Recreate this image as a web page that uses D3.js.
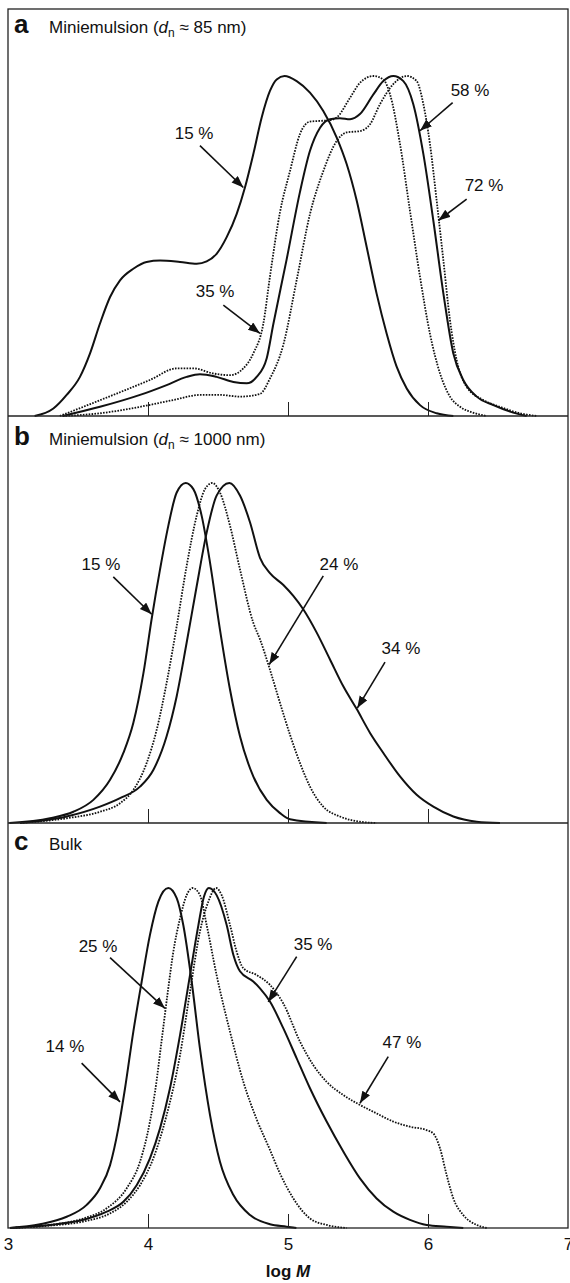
<!DOCTYPE html>
<html>
<head>
<meta charset="utf-8">
<script src="https://cdn.jsdelivr.net/npm/d3@7"></script>
<style>
  body { margin: 0; background: #fff; }
  svg { display: block; }
  text { font-family: Arial, "Liberation Sans", Helvetica, sans-serif; fill: #111; }
</style>
</head>
<body>
<svg id="chart" width="570" height="1283"></svg>
<script>
// x ticks (log M)
const xTicks = [3, 4, 5, 6, 7];
const innerTicks = [4, 5, 6];

// panel a : miniemulsion dn ~ 85 nm   [log M, normalised w(log M)]
const a15 = [[3.19,0],[3.324,0.022],[3.419,0.062],[3.514,0.115],[3.586,0.184],[3.657,0.272],[3.729,0.35],[3.8,0.399],[3.895,0.433],[3.99,0.453],[4.086,0.457],[4.229,0.453],[4.348,0.448],[4.419,0.455],[4.49,0.477],[4.562,0.526],[4.633,0.594],[4.693,0.673],[4.752,0.77],[4.812,0.878],[4.871,0.956],[4.919,0.99],[4.975,1.0],[5.062,0.985],[5.157,0.951],[5.252,0.897],[5.348,0.819],[5.419,0.741],[5.491,0.633],[5.562,0.497],[5.633,0.36],[5.705,0.242],[5.776,0.145],[5.848,0.081],[5.943,0.032],[6.062,0.008],[6.181,0]];
const a35 = [[3.37,0],[3.538,0.027],[3.776,0.066],[4.014,0.106],[4.205,0.14],[4.324,0.14],[4.467,0.125],[4.586,0.12],[4.681,0.14],[4.752,0.184],[4.824,0.272],[4.871,0.41],[4.943,0.6],[5.014,0.72],[5.086,0.83],[5.157,0.866],[5.229,0.868],[5.3,0.87],[5.348,0.878],[5.443,0.936],[5.514,0.98],[5.61,1.0],[5.68,0.99],[5.729,0.946],[5.8,0.8],[5.871,0.604],[5.943,0.409],[6.014,0.242],[6.086,0.125],[6.157,0.057],[6.229,0.027],[6.32,0.01],[6.42,0]];
const a58 = [[3.39,0],[3.657,0.027],[3.943,0.062],[4.133,0.091],[4.276,0.115],[4.371,0.123],[4.49,0.115],[4.61,0.1],[4.705,0.096],[4.776,0.115],[4.848,0.17],[4.895,0.27],[4.99,0.46],[5.086,0.66],[5.157,0.78],[5.229,0.848],[5.3,0.873],[5.371,0.876],[5.443,0.873],[5.514,0.888],[5.61,0.946],[5.681,0.985],[5.752,1.0],[5.824,0.985],[5.895,0.917],[5.967,0.77],[6.038,0.575],[6.11,0.36],[6.181,0.184],[6.252,0.106],[6.348,0.057],[6.467,0.032],[6.586,0.013],[6.705,0]];
const a72 = [[3.39,0],[3.657,0.008],[3.943,0.027],[4.181,0.047],[4.371,0.062],[4.514,0.062],[4.657,0.057],[4.8,0.065],[4.871,0.11],[4.967,0.21],[5.062,0.4],[5.157,0.594],[5.252,0.72],[5.348,0.809],[5.419,0.834],[5.514,0.838],[5.586,0.858],[5.657,0.917],[5.752,0.976],[5.848,1.0],[5.919,0.985],[5.967,0.917],[6.014,0.8],[6.062,0.633],[6.11,0.457],[6.157,0.282],[6.205,0.164],[6.276,0.086],[6.395,0.047],[6.514,0.027],[6.657,0.008],[6.776,0]];

// panel b : miniemulsion dn ~ 1000 nm
const b15 = [[3.01,0],[3.3,0.014],[3.467,0.033],[3.61,0.068],[3.729,0.127],[3.824,0.206],[3.895,0.294],[3.967,0.44],[4.026,0.6],[4.086,0.746],[4.145,0.874],[4.205,0.972],[4.269,1.0],[4.324,0.982],[4.383,0.904],[4.443,0.766],[4.514,0.569],[4.586,0.392],[4.657,0.255],[4.752,0.137],[4.848,0.068],[4.943,0.029],[5.014,0.011],[5.276,0]];
const b24 = [[3.086,0],[3.419,0.014],[3.657,0.033],[3.8,0.058],[3.895,0.097],[3.99,0.176],[4.062,0.274],[4.133,0.412],[4.205,0.579],[4.276,0.756],[4.348,0.904],[4.407,0.982],[4.459,1.0],[4.514,0.972],[4.586,0.874],[4.657,0.746],[4.752,0.589],[4.8,0.54],[4.871,0.451],[4.943,0.353],[5.014,0.26],[5.086,0.176],[5.157,0.107],[5.252,0.048],[5.371,0.019],[5.514,0.004],[5.633,0]];
const b34 = [[3.086,0],[3.419,0.019],[3.657,0.048],[3.8,0.073],[3.943,0.107],[4.038,0.156],[4.133,0.255],[4.205,0.373],[4.276,0.53],[4.348,0.697],[4.419,0.854],[4.49,0.963],[4.581,1.0],[4.657,0.963],[4.729,0.884],[4.8,0.78],[4.871,0.735],[4.967,0.7],[5.038,0.668],[5.11,0.628],[5.205,0.56],[5.3,0.481],[5.395,0.402],[5.491,0.335],[5.586,0.265],[5.681,0.206],[5.8,0.137],[5.919,0.083],[6.038,0.048],[6.181,0.019],[6.348,0.004],[6.514,0]];

// panel c : bulk
const c14 = [[3.014,0],[3.229,0.011],[3.419,0.033],[3.562,0.068],[3.657,0.117],[3.729,0.185],[3.788,0.293],[3.836,0.411],[3.895,0.577],[3.955,0.725],[4.014,0.862],[4.074,0.96],[4.145,1.0],[4.205,0.97],[4.252,0.891],[4.312,0.725],[4.371,0.528],[4.443,0.332],[4.514,0.195],[4.61,0.097],[4.729,0.038],[4.871,0.011],[4.99,0.004],[5.06,0]];
const c25 = [[3.014,0],[3.3,0.009],[3.538,0.028],[3.705,0.058],[3.848,0.117],[3.943,0.195],[4.014,0.313],[4.05,0.4],[4.1,0.56],[4.14,0.69],[4.18,0.81],[4.229,0.911],[4.276,0.979],[4.319,1.0],[4.371,0.979],[4.419,0.891],[4.49,0.744],[4.586,0.577],[4.681,0.43],[4.776,0.32],[4.871,0.23],[4.943,0.16],[5.038,0.087],[5.157,0.028],[5.276,0.009],[5.419,0]];
const c35 = [[3.014,0],[3.3,0.009],[3.538,0.024],[3.705,0.048],[3.824,0.077],[3.919,0.126],[4.014,0.205],[4.086,0.293],[4.157,0.411],[4.229,0.568],[4.3,0.744],[4.36,0.891],[4.4,0.975],[4.435,1.0],[4.49,0.979],[4.562,0.891],[4.61,0.803],[4.657,0.755],[4.752,0.725],[4.8,0.705],[4.871,0.666],[4.967,0.587],[5.062,0.499],[5.157,0.411],[5.276,0.313],[5.395,0.225],[5.514,0.146],[5.633,0.087],[5.752,0.048],[5.871,0.024],[5.99,0.009],[6.133,0.004],[6.252,0]];
const c47 = [[3.014,0],[3.3,0.007],[3.538,0.019],[3.729,0.043],[3.848,0.077],[3.943,0.126],[4.038,0.205],[4.133,0.332],[4.229,0.509],[4.3,0.695],[4.371,0.872],[4.431,0.96],[4.486,1.0],[4.526,0.979],[4.586,0.891],[4.633,0.813],[4.681,0.764],[4.776,0.744],[4.871,0.715],[4.967,0.66],[5.086,0.548],[5.181,0.479],[5.276,0.43],[5.395,0.391],[5.514,0.362],[5.633,0.337],[5.752,0.313],[5.871,0.298],[5.99,0.288],[6.038,0.278],[6.086,0.234],[6.133,0.156],[6.181,0.087],[6.252,0.038],[6.348,0.009],[6.419,0]];

// annotations: label, text anchor point, arrow start, arrow tip (data units)
const notesA = [
  ['15 %', [4.329, 0.815], [4.371, 0.795], [4.681, 0.672]],
  ['35 %', [4.479, 0.349], [4.538, 0.326], [4.8, 0.243]],
  ['58 %', [6.3, 0.941], [6.176, 0.922], [5.943, 0.839]],
  ['72 %', [6.4, 0.663], [6.276, 0.638], [6.074, 0.575]]
];
const notesB = [
  ['15 %', [3.664, 0.743], [3.752, 0.724], [4.026, 0.614]],
  ['24 %', [5.364, 0.743], [5.252, 0.727], [4.866, 0.466]],
  ['34 %', [5.807, 0.496], [5.693, 0.473], [5.495, 0.338]]
];
const notesC = [
  ['25 %', [3.643, 0.812], [3.729, 0.795], [4.121, 0.646]],
  ['14 %', [3.407, 0.518], [3.526, 0.485], [3.8, 0.371]],
  ['35 %', [5.179, 0.818], [5.062, 0.798], [4.859, 0.665]],
  ['47 %', [5.814, 0.529], [5.716, 0.504], [5.514, 0.367]]
];

const svg = d3.select('#chart');
const x = d3.scaleLinear().domain([3, 7]).range([8, 568]);

const panels = [
  { top: 9,   base: 416,  titleY: 33,  letter: 'a', title: '85 nm)',
    series: [[a15, false], [a35, true], [a58, false], [a72, true]], notes: notesA },
  { top: 416, base: 823,  titleY: 445, letter: 'b', title: '1000 nm)',
    series: [[b15, false], [b24, true], [b34, false]], notes: notesB },
  { top: 823, base: 1228, titleY: 850, letter: 'c', title: null,
    series: [[c14, false], [c25, true], [c35, false], [c47, true]], notes: notesC }
];

svg.append('defs').append('marker')
  .attr('id', 'head')
  .attr('markerUnits', 'userSpaceOnUse')
  .attr('markerWidth', 13).attr('markerHeight', 10)
  .attr('refX', 12).attr('refY', 4.5)
  .attr('orient', 'auto')
  .append('path')
  .attr('d', 'M0,0L12,4.5L0,9Z')
  .attr('fill', '#111');

panels.forEach(p => {
  const y = d3.scaleLinear().domain([0, 1]).range([p.base, p.base - 340]);
  const g = svg.append('g');

  const line = d3.line()
    .x(d => x(d[0]))
    .y(d => y(d[1]))
    .curve(d3.curveMonotoneX);

  g.selectAll('path.curve')
    .data(p.series)
    .enter()
    .append('path')
    .attr('class', 'curve')
    .attr('d', d => line(d[0]))
    .attr('fill', 'none')
    .attr('stroke', '#111')
    .attr('stroke-width', d => d[1] ? 1.8 : 2)
    .attr('stroke-dasharray', d => d[1] ? '1.6,1.3' : null);

  // inward ticks
  g.append('g')
    .attr('transform', `translate(0,${p.base})`)
    .call(d3.axisBottom(x).tickValues(innerTicks).tickSizeInner(-14).tickSizeOuter(0).tickFormat(''))
    .call(a => a.select('.domain').remove())
    .selectAll('line').attr('stroke', '#222');

  // arrows and labels
  p.notes.forEach(n => {
    g.append('line')
      .attr('x1', x(n[2][0])).attr('y1', y(n[2][1]))
      .attr('x2', x(n[3][0])).attr('y2', y(n[3][1]))
      .attr('stroke', '#111')
      .attr('stroke-width', 1.6)
      .attr('marker-end', 'url(#head)');
    g.append('text')
      .attr('x', x(n[1][0])).attr('y', y(n[1][1]))
      .attr('text-anchor', 'middle')
      .attr('font-size', 17)
      .text(n[0]);
  });

  // panel title
  g.append('text')
    .attr('x', 14).attr('y', p.titleY)
    .attr('font-size', 26).attr('font-weight', 'bold')
    .text(p.letter);
  const t = g.append('text')
    .attr('x', 49).attr('y', p.titleY)
    .attr('font-size', 17);
  if (p.title) {
    t.append('tspan').text('Miniemulsion (');
    t.append('tspan').attr('font-style', 'italic').text('d');
    t.append('tspan').attr('font-size', 12).attr('dy', 4).text('n');
    t.append('tspan').attr('dy', -4).text(' \u2248 ' + p.title);
  } else {
    t.text('Bulk');
  }
});

// frame and dividers
svg.append('rect')
  .attr('x', 8).attr('y', 9)
  .attr('width', 560).attr('height', 1219)
  .attr('fill', 'none').attr('stroke', '#222').attr('stroke-width', 1.3);
svg.selectAll('line.div')
  .data([416, 823])
  .enter()
  .append('line')
  .attr('class', 'div')
  .attr('x1', 8).attr('x2', 568)
  .attr('y1', d => d).attr('y2', d => d)
  .attr('stroke', '#222').attr('stroke-width', 1.3);

// bottom axis labels
const ax = svg.append('g')
  .attr('transform', 'translate(0,1228)')
  .call(d3.axisBottom(x).tickValues(xTicks).tickSize(0).tickPadding(10).tickFormat(d3.format('d')));
ax.select('.domain').remove();
ax.selectAll('text').attr('font-size', 17).attr('font-family', null).attr('fill', '#111');

const xl = svg.append('text')
  .attr('x', 288).attr('y', 1277)
  .attr('text-anchor', 'middle')
  .attr('font-size', 17).attr('font-weight', 'bold');
xl.append('tspan').text('log ');
xl.append('tspan').attr('font-style', 'italic').text('M');
</script>
</body>
</html>
